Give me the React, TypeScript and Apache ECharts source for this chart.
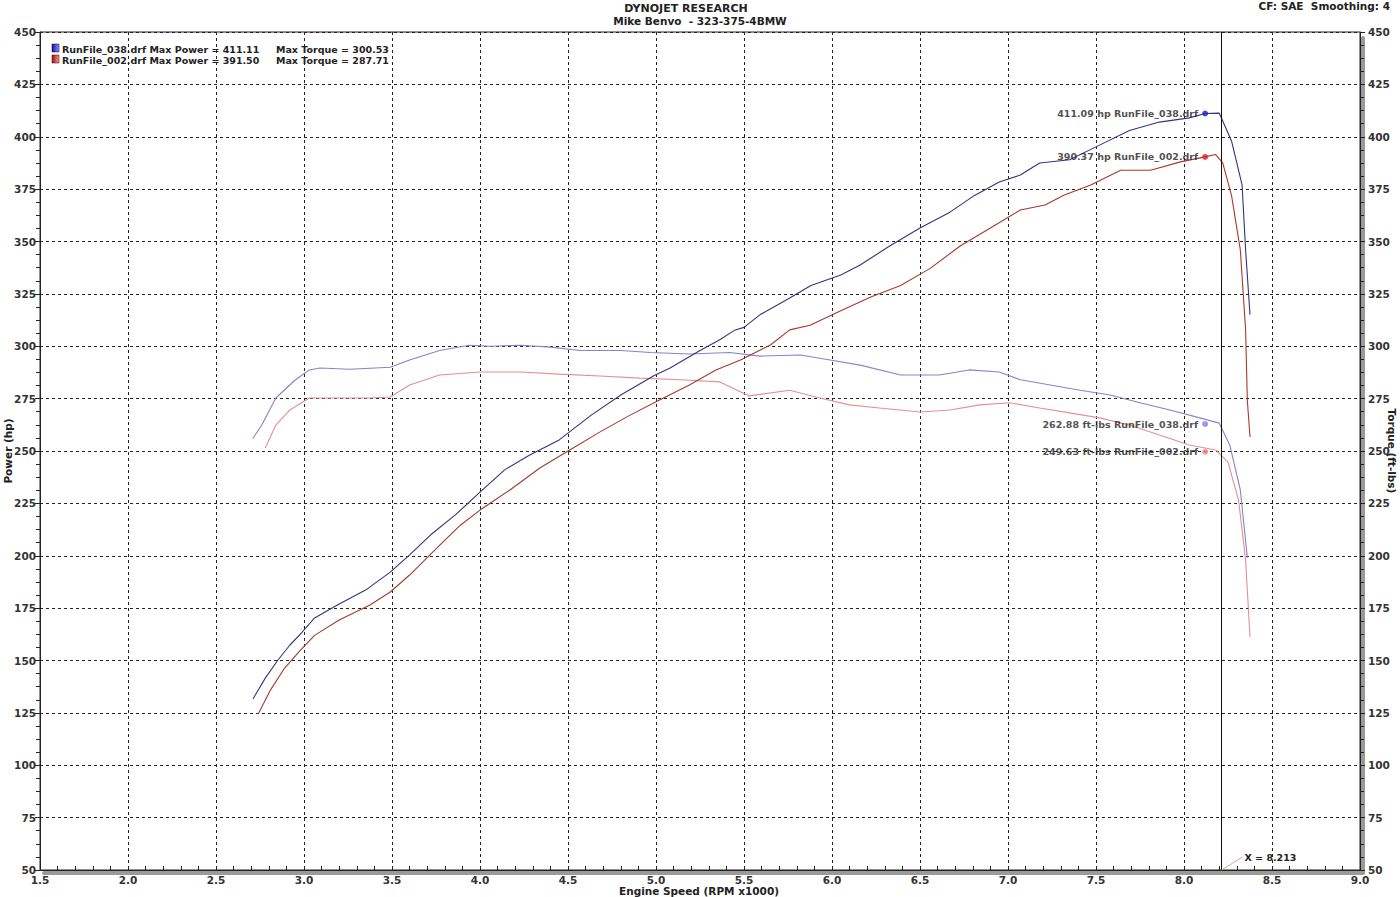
import React, { useEffect, useRef } from "react";
import * as echarts from "echarts";

const xTicks = [1.5, 2.0, 2.5, 3.0, 3.5, 4.0, 4.5, 5.0, 5.5, 6.0, 6.5, 7.0, 7.5, 8.0, 8.5, 9.0];

const power038Rpm = [2.71, 2.78, 2.85, 2.92, 2.99, 3.06, 3.2, 3.35, 3.49, 3.6, 3.72, 3.86, 4.0, 4.14, 4.28, 4.45, 4.63, 4.8, 4.99, 5.08, 5.25, 5.36, 5.45, 5.5, 5.59, 5.76, 5.88, 6.05, 6.16, 6.33, 6.5, 6.67, 6.81, 6.95, 7.07, 7.18, 7.35, 7.52, 7.69, 7.86, 8.03, 8.12, 8.2, 8.27, 8.33, 8.35, 8.375];
const power038 = [131.6, 141.6, 150, 157.4, 163.6, 170.3, 177, 183.6, 192.2, 200.4, 210, 219.5, 230.4, 241, 248, 255.3, 267, 276.7, 286, 289.6, 298, 303, 307.8, 309, 315, 323, 329, 334, 338.8, 348, 356.4, 364, 372, 378.4, 381.7, 387.5, 389, 396, 403, 407, 409, 411.1, 411.3, 398, 377, 346, 315];

const power002Rpm = [2.74, 2.81, 2.89, 2.98, 3.06, 3.2, 3.375, 3.49, 3.6, 3.77, 3.89, 4.0, 4.17, 4.34, 4.51, 4.68, 4.85, 5.02, 5.19, 5.34, 5.48, 5.65, 5.76, 5.875, 6.05, 6.22, 6.39, 6.56, 6.73, 6.9, 7.07, 7.21, 7.32, 7.47, 7.64, 7.81, 7.98, 8.12, 8.18, 8.22, 8.27, 8.32, 8.35, 8.36, 8.375];
const power002 = [124.5, 136, 146.4, 155, 162, 169.3, 176.5, 182.7, 190.8, 205, 214.7, 221.8, 231.4, 241.9, 250.5, 259, 267, 274.3, 281.5, 288.7, 293.4, 300.6, 307.8, 310, 317, 323.5, 329, 337.3, 348, 356.4, 365, 367.4, 372.2, 377, 384, 384, 388, 390.4, 391.5, 387.5, 372, 346, 308, 274, 256.7];

const torque038Rpm = [2.71, 2.76, 2.84, 2.95, 3.03, 3.09, 3.26, 3.49, 3.6, 3.77, 3.94, 4.06, 4.23, 4.4, 4.57, 4.8, 4.97, 5.19, 5.42, 5.59, 5.82, 5.99, 6.16, 6.39, 6.61, 6.78, 6.95, 7.07, 7.24, 7.41, 7.58, 7.75, 7.92, 8.09, 8.2, 8.26, 8.32, 8.36];
const torque038 = [256, 262.4, 275.3, 283.9, 288.7, 289.6, 289, 290, 293.4, 298, 300.5, 300, 300.5, 299.6, 298, 298, 297, 296.3, 297, 295.3, 295.8, 293.4, 291, 286.3, 286.3, 288.7, 287.7, 284, 281.5, 279, 276.7, 273, 269.6, 265.8, 263.3, 252.9, 231.4, 199];

const torque002Rpm = [2.78, 2.84, 2.92, 3.03, 3.2, 3.375, 3.49, 3.6, 3.77, 4.0, 4.23, 4.45, 4.68, 4.91, 5.14, 5.36, 5.53, 5.76, 5.93, 6.1, 6.27, 6.5, 6.67, 6.84, 7.01, 7.18, 7.35, 7.52, 7.69, 7.86, 8.03, 8.18, 8.25, 8.31, 8.35, 8.375];
const torque002 = [251.4, 262.4, 269.6, 275.3, 275.3, 275.3, 275.8, 281.5, 286.3, 287.7, 287.7, 286.7, 285.8, 284.8, 284, 283, 276.3, 279, 275.3, 272, 270.5, 268.6, 269.6, 272, 273, 270.5, 268.2, 265.8, 262.4, 257.6, 252.9, 250.5, 244.7, 226.6, 198, 161.2];

const cursorRpm = 8.12;
const cursorX = 8.213;
const cursorValues = [411.09, 390.37, 262.88, 249.63];
const cursorLabels = ["411.09 hp RunFile_038.drf", "390.37 hp RunFile_002.drf", "262.88 ft-lbs RunFile_038.drf", "249.63 ft-lbs RunFile_002.drf"];
const cursorColors = ["#1a1acc", "#e02020", "#8080e0", "#f08080"];

const legendNames = ["RunFile_038.drf Max Power = 411.11", "RunFile_002.drf Max Power = 391.50"];
const legendTorque = ["Max Torque = 300.53", "Max Torque = 287.71"];

const xAxisName = "Engine Speed (RPM x1000)";
const yLeftName = "Power (hp)";
const yRightName = "Torque (ft-lbs)";

const FONT = "DejaVu Sans, Verdana, sans-serif";

function pairs(xs: number[], ys: number[]) {
  return xs.map((x, i) => [x, ys[i]]);
}

export default function App() {
  const ref = useRef<HTMLDivElement>(null);
  useEffect(() => {
    document.body.style.margin = "0";
    const chart = echarts.init(ref.current!, undefined, { renderer: "svg" });
    const axisLabel = { color: "#333", fontFamily: FONT, fontWeight: "bold" as const, fontSize: 10.5 };
    const lineSeries = (name: string, data: number[][], color: string, yIdx: number) => ({
      name,
      type: "line",
      yAxisIndex: yIdx,
      data,
      showSymbol: false,
      smooth: false,
      lineStyle: { color, width: 1.1 },
      z: 3,
    });
    chart.setOption({
      animation: false,
      backgroundColor: "#fff",
      grid: {
        left: 40,
        right: 40,
        top: 32,
        bottom: 27,
        show: true,
        borderColor: "#222",
        borderWidth: 1,
        containLabel: false,
        outerBoundsMode: "none",
      },
      xAxis: {
        type: "value",
        min: 1.5,
        max: 9.0,
        interval: 0.5,
        axisLine: { lineStyle: { color: "#222", width: 1 } },
        axisTick: { show: true, inside: true, length: 4, lineStyle: { color: "#222" } },
        minorTick: { show: true, splitNumber: 5, length: 4, lineStyle: { color: "#222" } },
        axisLabel: { ...axisLabel, margin: 4, formatter: (v: number) => (xTicks.includes(v) ? v.toFixed(1) : "") },
        splitLine: { show: true, lineStyle: { color: "#222", type: [3, 3], width: 1 } },
      },
      yAxis: [
        {
          type: "value",
          min: 50,
          max: 450,
          interval: 25,
          position: "left",
          axisLine: { show: true, lineStyle: { color: "#222" } },
          axisTick: { show: true, length: 5, lineStyle: { color: "#222" } },
          minorTick: { show: true, splitNumber: 4, length: 4, lineStyle: { color: "#222" } },
          axisLabel: { ...axisLabel, margin: 4 },
          splitLine: { show: true, lineStyle: { color: "#222", type: [3, 3], width: 1 } },
        },
        {
          type: "value",
          min: 50,
          max: 450,
          interval: 25,
          position: "right",
          axisLine: { show: true, lineStyle: { color: "#222" } },
          axisTick: { show: true, length: 5, lineStyle: { color: "#222" } },
          minorTick: { show: true, splitNumber: 4, length: 4, lineStyle: { color: "#222" } },
          axisLabel: { ...axisLabel, margin: 8 },
          splitLine: { show: false },
        },
      ],
      series: [
        lineSeries("Torque RunFile_038", pairs(torque038Rpm, torque038), "#8585c8", 1),
        lineSeries("Torque RunFile_002", pairs(torque002Rpm, torque002), "#e49090", 1),
        {
          ...lineSeries("Power RunFile_038", pairs(power038Rpm, power038), "#34347e", 0),
          markLine: {
            silent: true,
            symbol: "none",
            label: { show: false },
            lineStyle: { color: "#111", type: "solid", width: 1 },
            data: [{ xAxis: cursorX }],
          },
        },
        lineSeries("Power RunFile_002", pairs(power002Rpm, power002), "#a63a2e", 0),
        {
          name: "cursor",
          type: "scatter",
          yAxisIndex: 0,
          symbolSize: 6,
          z: 5,
          data: cursorValues.map((v, i) => ({
            value: [cursorRpm, v],
            itemStyle: { color: cursorColors[i] },
            label: {
              show: true,
              position: "left",
              distance: 4,
              formatter: cursorLabels[i],
              color: "#222",
              fontFamily: FONT,
              fontWeight: "bold",
              fontSize: 9.5,
            },
          })),
        },
      ],
    });

    const px = chart.convertToPixel({ xAxisIndex: 0 }, cursorX) as number;
    const py = chart.convertToPixel({ yAxisIndex: 0 }, 50) as number;
    const gradBlue = new echarts.graphic.LinearGradient(0, 0, 1, 0, [
      { offset: 0, color: "#1010a0" },
      { offset: 1, color: "#9090ff" },
    ]);
    const gradRed = new echarts.graphic.LinearGradient(0, 0, 1, 0, [
      { offset: 0, color: "#a01010" },
      { offset: 1, color: "#ff9090" },
    ]);
    const txt = (x: number, y: number, text: string, align: string, size = 10, rotation = 0) => ({
      type: "text",
      x,
      y,
      rotation,
      style: { text, fill: "#222", font: `bold ${size}px ${FONT}`, textAlign: align, textVerticalAlign: "middle" },
      z: 10,
    });
    chart.setOption({
      graphic: [
        { type: "rect", shape: { x: 42, y: 871, width: 1322, height: 4, r: 2 }, style: { fill: "#9a9a9a" }, z: -1 },
        { type: "rect", shape: { x: 1361, y: 36, width: 4, height: 839, r: 2 }, style: { fill: "#9a9a9a" }, z: -1 },
        txt(686, 8, "DYNOJET RESEARCH", "center", 11),
        txt(700, 21, "Mike Benvo  - 323-375-4BMW", "center", 10.5),
        txt(1390, 6, "CF: SAE  Smoothing: 4", "right", 10.5),
        txt(699, 890.5, xAxisName, "center", 10.5),
        txt(8, 451, yLeftName, "center", 10.5, Math.PI / 2),
        txt(1392, 451, yRightName, "center", 10.5, -Math.PI / 2),
        { type: "rect", shape: { x: 52, y: 44, width: 7, height: 8 }, style: { fill: gradBlue, stroke: "#000033", lineWidth: 0.5 }, z: 10 },
        { type: "rect", shape: { x: 52, y: 55, width: 7, height: 8 }, style: { fill: gradRed, stroke: "#330000", lineWidth: 0.5 }, z: 10 },
        txt(62, 49, legendNames[0], "left", 9.5),
        txt(62, 60, legendNames[1], "left", 9.5),
        txt(276, 49, legendTorque[0], "left", 9.5),
        txt(276, 60, legendTorque[1], "left", 9.5),
        { type: "line", shape: { x1: px, y1: py, x2: px + 21, y2: py - 13 }, style: { stroke: "#e0a0a0", lineWidth: 1 }, z: 10 },
        txt(px + 23, py - 13, `X = ${cursorX.toFixed(3)}`, "left", 9.5),
      ],
    });
    return () => chart.dispose();
  }, []);
  return <div ref={ref} style={{ width: 1400, height: 897 }} />;
}
